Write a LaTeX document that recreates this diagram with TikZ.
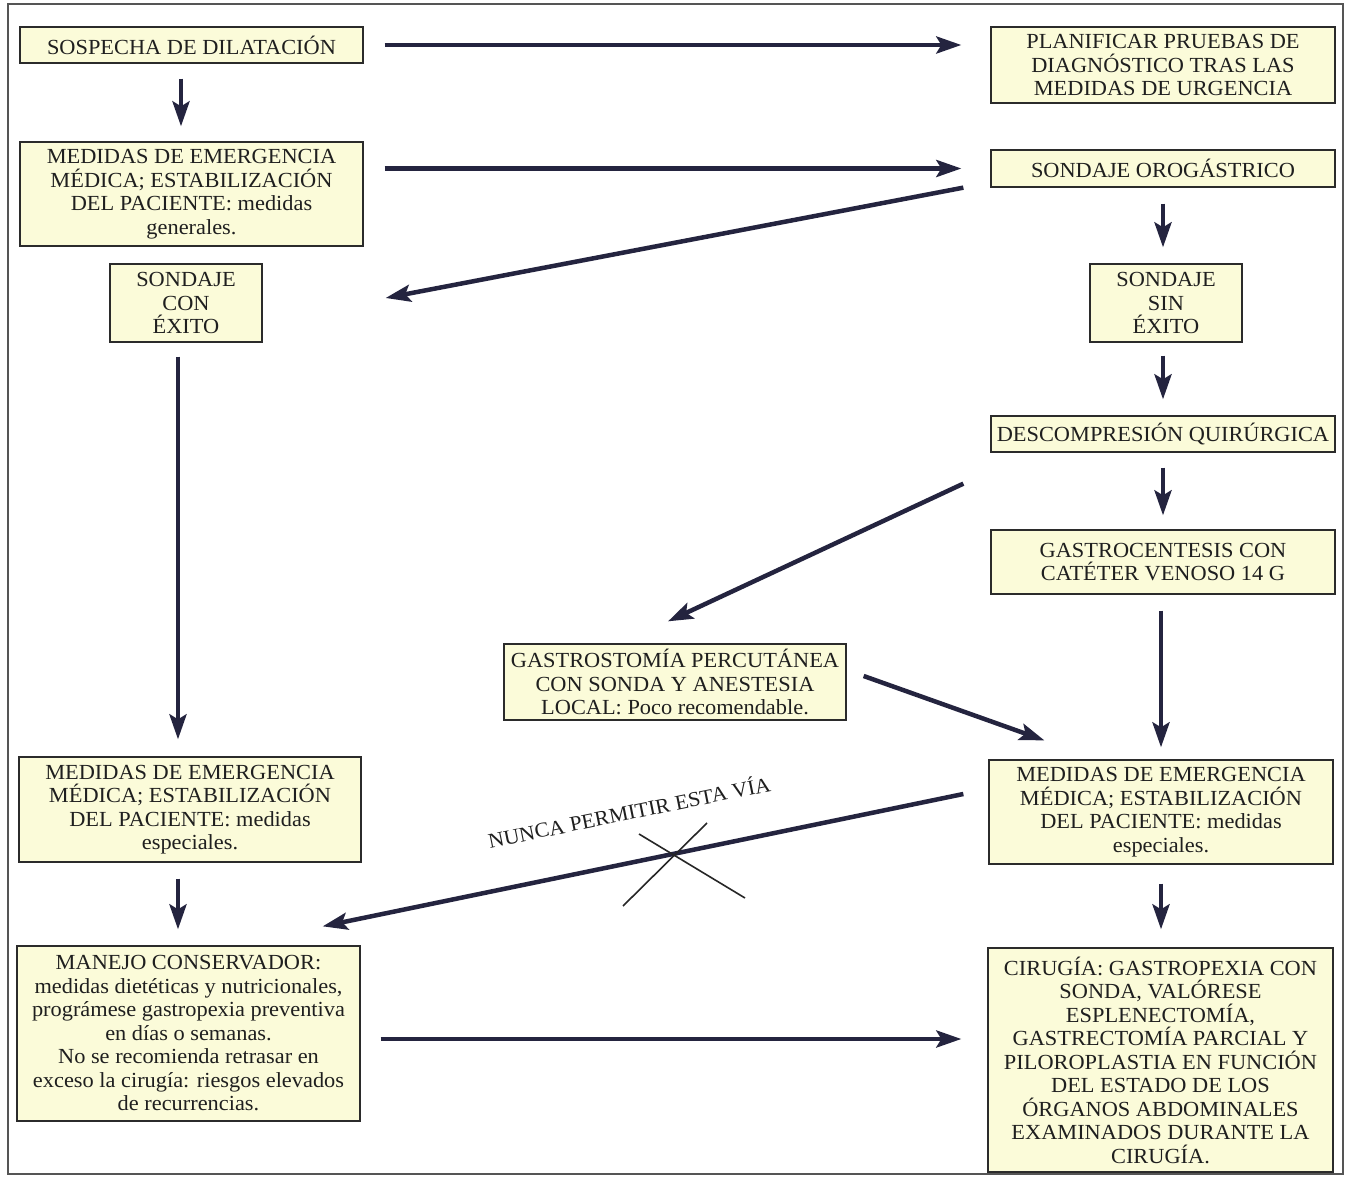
\documentclass[tikz,border=0pt]{standalone}
\usepackage{fontspec}
\setmainfont{Liberation Serif}[FakeStretch=1.04]
\usetikzlibrary{arrows.meta,calc}
\definecolor{boxfill}{HTML}{FBFBD9}
\definecolor{arrcol}{HTML}{24243F}
\definecolor{edgecol}{HTML}{2B2B2B}
\tikzset{
  box/.style={draw=edgecol, line width=1.3pt, fill=boxfill, align=center,
    inner sep=1pt, text=black!88, font=\fontsize{21.5}{23.5}\selectfont},
  arr/.style={draw=arrcol, line width=4.5pt,
    -{Stealth[length=25pt,width=17pt,inset=5pt]}},
  crossline/.style={draw=black!85, line width=1.6pt}
}
\begin{document}
\begin{tikzpicture}[x=1pt,y=-1pt]
\useasboundingbox (0,0) rectangle (1350,1177);
\fill[white] (0,0) rectangle (1350,1177);
\draw[edgecol!80, line width=1.4pt] (8,4) rectangle (1343,1174);

% boxes
\node[box, minimum width=343pt, minimum height=36pt] (sosp) at (191.5,45) {SOSPECHA DE DILATACIÓN};
\node[box, minimum width=344pt, minimum height=76pt] (plan) at (1163,65) {PLANIFICAR PRUEBAS DE\\DIAGNÓSTICO TRAS LAS\\MEDIDAS DE URGENCIA};
\node[box, minimum width=343pt, minimum height=104pt] (medg) at (191.5,194) {MEDIDAS DE EMERGENCIA\\MÉDICA; ESTABILIZACIÓN\\DEL PACIENTE: medidas\\generales.};
\node[box, minimum width=344pt, minimum height=37pt] (orog) at (1163,168.5) {SONDAJE OROGÁSTRICO};
\node[box, minimum width=152pt, minimum height=78pt] (con) at (186,303) {SONDAJE\\CON\\ÉXITO};
\node[box, minimum width=152pt, minimum height=78pt] (sin) at (1166,303) {SONDAJE\\SIN\\ÉXITO};
\node[box, minimum width=344pt, minimum height=36pt] (desc) at (1163,434) {DESCOMPRESIÓN QUIRÚRGICA};
\node[box, minimum width=344pt, minimum height=64pt] (gastroc) at (1163,562) {GASTROCENTESIS CON\\CATÉTER VENOSO 14 G};
\node[box, minimum width=342pt, minimum height=76pt] (gastrost) at (675,682) {GASTROSTOMÍA PERCUTÁNEA\\CON SONDA Y ANESTESIA\\LOCAL: Poco recomendable.};
\node[box, minimum width=342pt, minimum height=105pt] (medL) at (190,809.5) {MEDIDAS DE EMERGENCIA\\MÉDICA; ESTABILIZACIÓN\\DEL PACIENTE: medidas\\especiales.};
\node[box, minimum width=344pt, minimum height=104pt] (medR) at (1161,812) {MEDIDAS DE EMERGENCIA\\MÉDICA; ESTABILIZACIÓN\\DEL PACIENTE: medidas\\especiales.};
\node[box, minimum width=343pt, minimum height=175pt] (manejo) at (188.5,1033.5) {MANEJO CONSERVADOR:\\medidas dietéticas y nutricionales,\\prográmese gastropexia preventiva\\en días o semanas.\\No se recomienda retrasar en\\exceso la cirugía: riesgos elevados\\de recurrencias.};
\node[box, minimum width=345pt, minimum height=224pt] (cir) at (1160.5,1060) {CIRUGÍA: GASTROPEXIA CON\\SONDA, VALÓRESE\\ESPLENECTOMÍA,\\GASTRECTOMÍA PARCIAL Y\\PILOROPLASTIA EN FUNCIÓN\\DEL ESTADO DE LOS\\ÓRGANOS ABDOMINALES\\EXAMINADOS DURANTE LA\\CIRUGÍA.};

% connectors
\draw[arr, shorten <=21pt, shorten >=29pt] (sosp.east) -- (sosp.east -| plan.west);
\draw[arr, shorten <=15pt, shorten >=15pt] ([xshift=-10.5pt]sosp.south) -- ([xshift=-10.5pt]medg.north);
\draw[arr, shorten <=21pt, shorten >=29pt] (medg.east |- orog.west) -- (orog.west);
\draw[arr] ([xshift=-27pt]orog.south west) -- ([xshift=123pt,yshift=5pt]con.east);
\draw[arr, shorten <=16pt, shorten >=16pt] (orog.south) -- (orog.south |- sin.north);
\draw[arr, shorten <=13pt, shorten >=16pt] (desc.north |- sin.south) -- (desc.north);
\draw[arr, shorten <=15pt, shorten >=14pt] (desc.south) -- (gastroc.north);
\draw[arr] ([xshift=-27pt,yshift=-31pt]desc.south west) -- ([xshift=-7pt,yshift=22pt]gastrost.north);
\draw[arr, shorten <=14pt, shorten >=17pt] ([xshift=-8pt]con.south) -- ([xshift=-8pt]con.south |- medL.north);
\draw[arr, shorten <=16pt, shorten >=12pt] (medR.north |- gastroc.south) -- (medR.north);
\draw[arr] ([xshift=17pt,yshift=6pt]gastrost.east) -- ([xshift=56pt,yshift=19pt]medR.north west);
\draw[arr] ([xshift=-25pt,yshift=18pt]medR.west) -- ([xshift=-38pt,yshift=19pt]manejo.north east);
\draw[arr, shorten <=16pt, shorten >=16pt] ([xshift=-12pt]medL.south) -- ([xshift=-12pt]medL.south |- manejo.north);
\draw[arr, shorten <=19pt, shorten >=18pt] (medR.south) -- (medR.south |- cir.north);
\draw[arr, shorten <=20pt, shorten >=26pt] ([yshift=-5.5pt]manejo.east) -- ([yshift=-5.5pt]manejo.east -| cir.west);

% forbidden path mark
\coordinate (xc) at (673,855);
\draw[crossline] ($(xc)+(-50,51)$) -- ($(xc)+(34,-32)$);
\draw[crossline] ($(xc)+(-34,-21)$) -- ($(xc)+(72,43)$);
\node[rotate=11.5, font=\fontsize{21}{23}\selectfont, text=black!88, inner sep=0pt] (nunca) at (629,811) {NUNCA PERMITIR ESTA VÍA};
\end{tikzpicture}
\end{document}
